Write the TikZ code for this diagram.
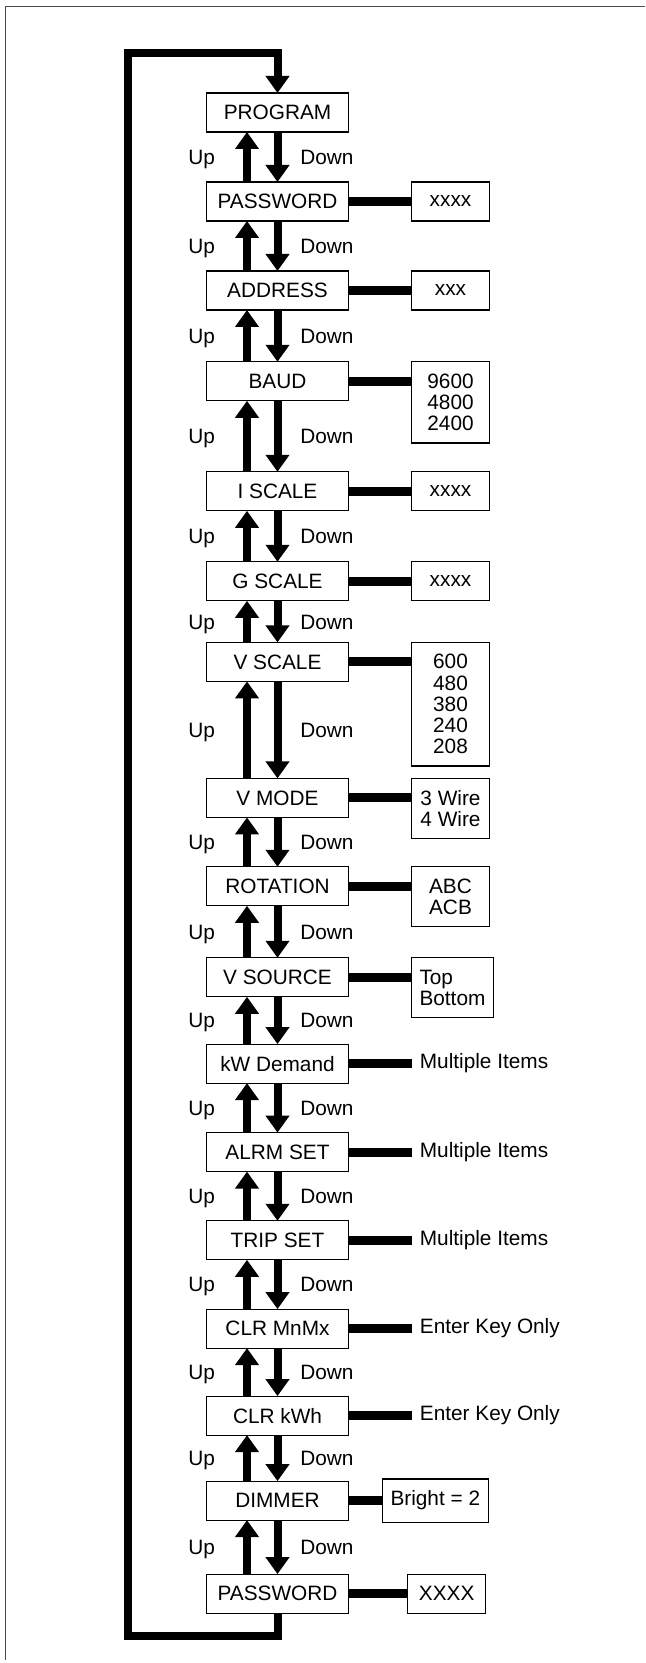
\documentclass[tikz,border=0pt]{standalone}
\usepackage{fontspec}
\setmainfont{Liberation Sans}
\usetikzlibrary{arrows.meta,positioning}

\begin{document}
\begin{tikzpicture}[
  x=0.5pt, y=-0.5pt,
  font=\fontsize{10.4}{10.6}\selectfont,
  menu/.style={draw, line width=0.6pt, minimum width=71pt, minimum height=19.5pt,
  inner sep=2pt, outer sep=0pt},
  opt/.style={draw, line width=0.6pt, align=center, minimum width=39pt,
  minimum height=19.5pt, inner xsep=4pt, inner ysep=6pt, outer sep=0pt},
  item/.style={inner xsep=4pt, inner ysep=0pt},
  link/.style={line width=4.5pt},
  arrow/.style={-{Triangle[width=11.5pt,length=8.5pt]}, line width=4pt},
  lbl/.style={inner sep=0pt, text height=7.5pt, text depth=0pt}
]
  \useasboundingbox (0,0) rectangle (645,1663);
  \draw[line width=0.5pt, black!70] (5.5,1660) -- (5.5,6.7) -- (645,6.7);

  \node[menu] (prog) at (277.5,112.5) {PROGRAM};
  \node[menu, below=25pt of prog] (pass) {PASSWORD};
  \node[menu, below=25pt of pass] (addr) {ADDRESS};
  \node[menu, below=25.9pt of addr] (baud) {BAUD};
  \node[menu, below=35.5pt of baud] (iscl) {I SCALE};
  \node[menu, below=25.5pt of iscl] (gscl) {G SCALE};
  \node[menu, below=20.8pt of gscl] (vscl) {V SCALE};
  \node[menu, below=48.5pt of vscl] (vmod) {V MODE};
  \node[menu, below=24.7pt of vmod] (rot) {ROTATION};
  \node[menu, below=26pt of rot] (vsrc) {V SOURCE};
  \node[menu, below=23.65pt of vsrc] (kwd) {kW Demand};
  \node[menu, below=24.75pt of kwd] (alrm) {ALRM SET};
  \node[menu, below=24.6pt of alrm] (trip) {TRIP SET};
  \node[menu, below=24.65pt of trip] (mnmx) {CLR MnMx};
  \node[menu, below=24pt of mnmx] (kwh) {CLR kWh};
  \node[menu, below=23pt of kwh] (dim) {DIMMER};
  \node[menu, below=27pt of dim] (pass2) {PASSWORD};

  \node[opt, right=31.5pt of pass.north east, anchor=north west] (passv) {xxxx};
  \node[opt, right=31.5pt of addr.north east, anchor=north west] (addrv) {xxx};
  \node[opt, right=31.5pt of baud.north east, anchor=north west] (baudv) {9600\\4800\\2400};
  \node[opt, right=31.5pt of iscl.north east, anchor=north west] (isclv) {xxxx};
  \node[opt, right=31.5pt of gscl.north east, anchor=north west] (gsclv) {xxxx};
  \node[opt, right=31.5pt of vscl.north east, anchor=north west] (vsclv) {600\\480\\380\\240\\208};
  \node[opt, right=31.5pt of vmod.north east, anchor=north west] (vmodv) {3 Wire\\4 Wire};
  \node[opt, right=31.5pt of rot.north east, anchor=north west] (rotv) {ABC\\ACB};
  \node[opt, align=left, right=31.5pt of vsrc.north east, anchor=north west] (vsrcv) {Top\\Bottom};
  \node[item, right=31.5pt of kwd] (kwdv) {Multiple Items};
  \node[item, right=31.5pt of alrm] (alrmv) {Multiple Items};
  \node[item, right=31.5pt of trip] (tripv) {Multiple Items};
  \node[item, right=31.5pt of mnmx] (mnmxv) {Enter Key Only};
  \node[item, right=31.5pt of kwh] (kwhv) {Enter Key Only};
  \node[opt, right=17pt of dim] (dimv) {Bright = 2};
  \node[opt, right=29.6pt of pass2] (pass2v) {XXXX};

  \draw[link] (pass.east) -- (pass.east -| passv.west);
  \draw[link] (addr.east) -- (addr.east -| addrv.west);
  \draw[link] (baud.east) -- (baud.east -| baudv.west);
  \draw[link] (iscl.east) -- (iscl.east -| isclv.west);
  \draw[link] (gscl.east) -- (gscl.east -| gsclv.west);
  \draw[link] (vscl.east) -- (vscl.east -| vsclv.west);
  \draw[link] (vmod.east) -- (vmod.east -| vmodv.west);
  \draw[link] (rot.east) -- (rot.east -| rotv.west);
  \draw[link] (vsrc.east) -- (vsrc.east -| vsrcv.west);
  \draw[link] (kwd.east) -- (kwdv.west);
  \draw[link] (alrm.east) -- (alrmv.west);
  \draw[link] (trip.east) -- (tripv.west);
  \draw[link] (mnmx.east) -- (mnmxv.west);
  \draw[link] (kwh.east) -- (kwhv.west);
  \draw[link] (dim.east) -- (dimv.west);
  \draw[link] (pass2.east) -- (pass2v.west);

  \draw[arrow] ([xshift=-15.25pt]pass.north) -- node[lbl, left=14pt] (u1) {Up} ([xshift=-15.25pt]prog.south);
  \draw[arrow] (prog.south) -- node[lbl, right=9.4pt] (d1) {Down} (pass.north);
  \draw[arrow] ([xshift=-15.25pt]addr.north) -- node[lbl, left=14pt] (u2) {Up} ([xshift=-15.25pt]pass.south);
  \draw[arrow] (pass.south) -- node[lbl, right=9.4pt] (d2) {Down} (addr.north);
  \draw[arrow] ([xshift=-15.25pt]baud.north) -- node[lbl, left=14pt] (u3) {Up} ([xshift=-15.25pt]addr.south);
  \draw[arrow] (addr.south) -- node[lbl, right=9.4pt] (d3) {Down} (baud.north);
  \draw[arrow] ([xshift=-15.25pt]iscl.north) -- node[lbl, left=14pt] (u4) {Up} ([xshift=-15.25pt]baud.south);
  \draw[arrow] (baud.south) -- node[lbl, right=9.4pt] (d4) {Down} (iscl.north);
  \draw[arrow] ([xshift=-15.25pt]gscl.north) -- node[lbl, left=14pt] (u5) {Up} ([xshift=-15.25pt]iscl.south);
  \draw[arrow] (iscl.south) -- node[lbl, right=9.4pt] (d5) {Down} (gscl.north);
  \draw[arrow] ([xshift=-15.25pt]vscl.north) -- node[lbl, left=14pt] (u6) {Up} ([xshift=-15.25pt]gscl.south);
  \draw[arrow] (gscl.south) -- node[lbl, right=9.4pt] (d6) {Down} (vscl.north);
  \draw[arrow] ([xshift=-15.25pt]vmod.north) -- node[lbl, left=14pt] (u7) {Up} ([xshift=-15.25pt]vscl.south);
  \draw[arrow] (vscl.south) -- node[lbl, right=9.4pt] (d7) {Down} (vmod.north);
  \draw[arrow] ([xshift=-15.25pt]rot.north) -- node[lbl, left=14pt] (u8) {Up} ([xshift=-15.25pt]vmod.south);
  \draw[arrow] (vmod.south) -- node[lbl, right=9.4pt] (d8) {Down} (rot.north);
  \draw[arrow] ([xshift=-15.25pt]vsrc.north) -- node[lbl, left=14pt] (u9) {Up} ([xshift=-15.25pt]rot.south);
  \draw[arrow] (rot.south) -- node[lbl, right=9.4pt] (d9) {Down} (vsrc.north);
  \draw[arrow] ([xshift=-15.25pt]kwd.north) -- node[lbl, left=14pt] (u10) {Up} ([xshift=-15.25pt]vsrc.south);
  \draw[arrow] (vsrc.south) -- node[lbl, right=9.4pt] (d10) {Down} (kwd.north);
  \draw[arrow] ([xshift=-15.25pt]alrm.north) -- node[lbl, left=14pt] (u11) {Up} ([xshift=-15.25pt]kwd.south);
  \draw[arrow] (kwd.south) -- node[lbl, right=9.4pt] (d11) {Down} (alrm.north);
  \draw[arrow] ([xshift=-15.25pt]trip.north) -- node[lbl, left=14pt] (u12) {Up} ([xshift=-15.25pt]alrm.south);
  \draw[arrow] (alrm.south) -- node[lbl, right=9.4pt] (d12) {Down} (trip.north);
  \draw[arrow] ([xshift=-15.25pt]mnmx.north) -- node[lbl, left=14pt] (u13) {Up} ([xshift=-15.25pt]trip.south);
  \draw[arrow] (trip.south) -- node[lbl, right=9.4pt] (d13) {Down} (mnmx.north);
  \draw[arrow] ([xshift=-15.25pt]kwh.north) -- node[lbl, left=14pt] (u14) {Up} ([xshift=-15.25pt]mnmx.south);
  \draw[arrow] (mnmx.south) -- node[lbl, right=9.4pt] (d14) {Down} (kwh.north);
  \draw[arrow] ([xshift=-15.25pt]dim.north) -- node[lbl, left=14pt] (u15) {Up} ([xshift=-15.25pt]kwh.south);
  \draw[arrow] (kwh.south) -- node[lbl, right=9.4pt] (d15) {Down} (dim.north);
  \draw[arrow] ([xshift=-15.25pt]pass2.north) -- node[lbl, left=14pt] (u16) {Up} ([xshift=-15.25pt]dim.south);
  \draw[arrow] (dim.south) -- node[lbl, right=9.4pt] (d16) {Down} (pass2.north);

  \coordinate (looptop) at (128,53);
  \coordinate (loopbot) at (128,1635.5);
  \draw[arrow, line join=miter] (pass2.south) -- (pass2.south |- loopbot) -- (loopbot)
    -- (looptop) -- (prog.north |- looptop) -- (prog.north);
\end{tikzpicture}
\end{document}
